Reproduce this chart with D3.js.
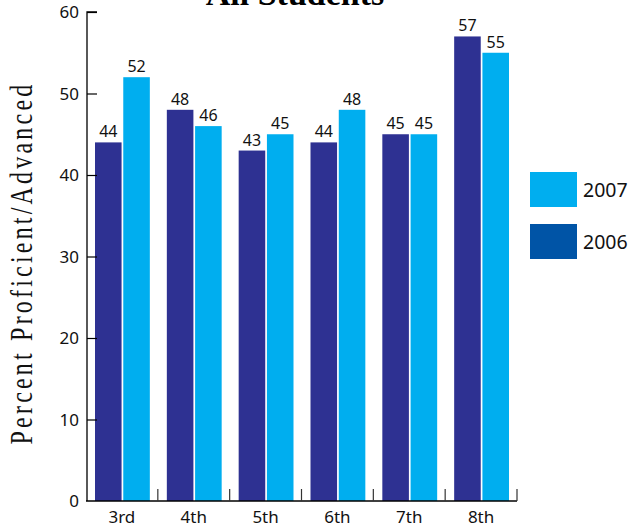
<!DOCTYPE html>
<html><head><meta charset="utf-8">
<script src="https://cdn.jsdelivr.net/npm/d3@7"></script>
<style>body{margin:0;background:#fff}</style>
</head><body>
<script>
const grades = ["3rd","4th","5th","6th","7th","8th"];
const values2006 = [44,48,43,44,45,57];
const values2007 = [52,46,45,48,45,55];
const seriesNames = ["2006","2007"];
const yTicks = [0,10,20,30,40,50,60];

const W=639,H=529;
const svg=d3.select("body").append("svg").attr("width",W).attr("height",H);
const x0=86,x1=517,yB=501,yT=12;
const x=d3.scaleBand().domain(grades).range([x0,x1]).paddingInner(0).paddingOuter(0);
const y=d3.scaleLinear().domain([0,60]).range([yB,yT]);
const xs=d3.scaleBand().domain(seriesNames).range([9,x.bandwidth()-8]).paddingInner(0.06);
const colors={"2006":"#2E3192","2007":"#00AEEF"};
const font="'Noto Sans', sans-serif";

const data=grades.map((g,i)=>({g, v:{"2006":values2006[i],"2007":values2007[i]}}));
const gg=svg.selectAll("g.grp").data(data).join("g").attr("transform",d=>`translate(${x(d.g)},0)`);
seriesNames.forEach(s=>{
  gg.append("rect").attr("x",xs(s)).attr("width",xs.bandwidth())
    .attr("y",d=>y(d.v[s])).attr("height",d=>yB-y(d.v[s])).attr("fill",colors[s]);
  gg.append("text").attr("x",xs(s)+xs.bandwidth()/2).attr("y",d=>y(d.v[s])-5)
    .attr("text-anchor","middle").attr("font-family",font).attr("font-size",16).attr("fill","#111")
    .text(d=>d.v[s]);
});

// y axis
const ya=svg.append("g").attr("transform",`translate(${x0+1},0)`)
  .call(d3.axisRight(y).tickValues(yTicks).tickSize(10).tickFormat(""));
ya.select(".domain").attr("d",`M10,${yT}H0V${yB}`).attr("stroke","#000").attr("stroke-width",1.3);
ya.selectAll(".tick line").attr("stroke","#000").attr("stroke-width",1.2);
ya.selectAll(".tick").filter(d=>d===0).remove();
svg.append("g").selectAll("text").data(yTicks).join("text")
  .attr("x",79).attr("y",d=>y(d)+6).attr("text-anchor","end")
  .attr("font-family",font).attr("font-size",17).attr("fill","#111").text(d=>d);

// x axis
const xa=svg.append("g").attr("transform",`translate(0,${yB})`);
xa.append("line").attr("x1",x0).attr("x2",x1).attr("y1",0).attr("y2",0).attr("stroke","#000").attr("stroke-width",1.3);
xa.selectAll("line.t").data(grades).join("line").attr("class","t")
  .attr("x1",d=>x(d)+x.bandwidth()).attr("x2",d=>x(d)+x.bandwidth())
  .attr("y1",0).attr("y2",-12).attr("stroke","#333").attr("stroke-width",1.2);
xa.selectAll("text").data(grades).join("text")
  .attr("x",d=>x(d)+x.bandwidth()/2).attr("y",22).attr("text-anchor","middle")
  .attr("font-family",font).attr("font-size",17).attr("fill","#111").text(d=>d);

// title
svg.append("text").attr("x",295).attr("y",5).attr("text-anchor","middle")
  .attr("font-family","'Liberation Serif', serif").attr("font-weight","bold").attr("font-size",34)
  .text("All Students");

// y label
svg.append("text").attr("transform","translate(32,263) rotate(-90) scale(1,1.3)").attr("text-anchor","middle")
  .attr("font-family","'Liberation Serif', serif").attr("font-size",24).attr("letter-spacing",3.2).attr("fill","#111")
  .text("Percent Proficient/Advanced");

// legend
const legend=[{name:"2007",color:"#00AEEF",y:172},{name:"2006",color:"#0054A6",y:224}];
const lg=svg.selectAll("g.lg").data(legend).join("g");
lg.append("rect").attr("x",530).attr("y",d=>d.y).attr("width",47).attr("height",35).attr("fill",d=>d.color);
lg.append("text").attr("x",583).attr("y",d=>d.y+25).attr("font-family",font).attr("font-size",19.5).attr("fill","#111").text(d=>d.name);
</script>
</body></html>
